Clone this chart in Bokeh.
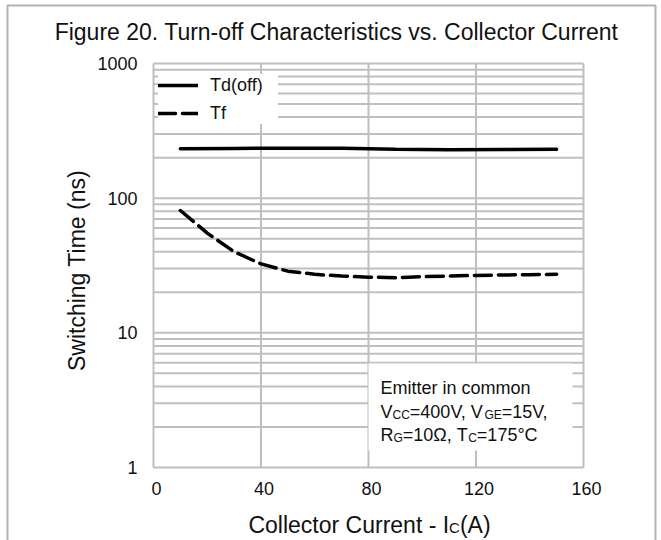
import math

from bokeh.embed import file_html
from bokeh.models import BoxAnnotation, Label, Legend, LegendItem, Range1d
from bokeh.plotting import figure
from bokeh.resources import INLINE

# ---- data -------------------------------------------------------------
ic_td = [10, 30, 50, 70, 90, 110, 130, 150]            # collector current (A)
td_off = [233, 234, 235, 235, 231, 229, 230, 231]       # Td(off) (ns)

ic_tf = [10, 20, 30, 40, 50, 60, 70, 80, 90, 100, 110, 120, 130, 140, 150]
tf = [81, 55, 40, 32.5, 28.7, 27.2, 26.4, 25.9, 25.7, 26.1, 26.4, 26.7, 26.9, 27.0, 27.2]

x_ticks = [0, 40, 80, 120, 160]
y_ticks = [1, 10, 100, 1000]
y_minor = [m * d for d in (1, 10, 100) for m in range(2, 10)]

# ---- layout -----------------------------------------------------------
# The canvas is used as one large frame; the chart area sits inside it,
# so titles and tick labels can be placed freely around it.
W, H = 661, 540
FX0, FX1 = 153, 583      # chart area left / right (px)
FY0, FY1 = 63, 467       # chart area top / bottom (px)
X0, X1 = 0, 160
Y0, Y1 = 1, 1000

FONT = "Liberation Sans"
INK = "#111111"
GRID = "#bfbfbf"


def dx(px):
    return X0 + (px - FX0) / (FX1 - FX0) * (X1 - X0)


def dy(py):
    lo, hi = math.log10(Y0), math.log10(Y1)
    return 10 ** (hi - (py - FY0) / (FY1 - FY0) * (hi - lo))


# Arial/Liberation Sans advance widths (per 1000 em)
ADV = {' ': 278, ',': 278, '.': 278, '-': 333, '=': 584, '(': 333, ')': 333,
       '°': 400, 'Ω': 768, 'A': 667, 'C': 722, 'E': 667, 'G': 778, 'I': 278,
       'R': 722, 'T': 611, 'V': 667, 'a': 556, 'c': 500, 'e': 556, 'i': 222,
       'l': 222, 'm': 833, 'n': 556, 'o': 556, 'r': 333, 't': 278, 'u': 556}


def text_width(s, size):
    return sum(ADV.get(ch, 556) for ch in s) / 1000 * size


p = figure(width=W, height=H,
           x_range=Range1d(dx(0), dx(W)), y_range=Range1d(dy(H), dy(0)),
           y_axis_type="log", output_backend="svg", toolbar_location=None,
           title=None, x_axis_location=None, y_axis_location=None,
           min_border=0)
p.grid.visible = False
p.outline_line_color = None
p.background_fill_color = "white"
p.border_fill_color = "white"

# grid (major + minor), drawn inside the chart area only
p.segment(x0=x_ticks, x1=x_ticks, y0=[Y0] * len(x_ticks), y1=[Y1] * len(x_ticks),
          line_color=GRID, line_width=2)
all_y = y_ticks + y_minor
p.segment(x0=[X0] * len(all_y), x1=[X1] * len(all_y), y0=all_y, y1=all_y,
          line_color=GRID, line_width=2)

# curves
r_td = p.line(ic_td, td_off, line_color="black", line_width=3.5, line_cap="round")
r_tf = p.line(ic_tf, tf, line_color="black", line_width=3.5, line_cap="round",
              line_dash="17 7")

legend = Legend(items=[LegendItem(label="Td(off)", renderers=[r_td]),
                       LegendItem(label="Tf", renderers=[r_tf])],
                location=(158, H - 124))
legend.padding = 7
legend.spacing = 6
legend.glyph_width = 40
legend.glyph_height = 22
legend.label_height = 22
legend.label_width = 68
legend.label_standoff = 12
legend.label_text_font = FONT
legend.label_text_font_size = "18px"
legend.label_text_color = INK
legend.background_fill_color = "white"
legend.background_fill_alpha = 1
legend.border_line_color = None
p.add_layout(legend)

# white panel behind the test conditions
p.add_layout(BoxAnnotation(left=dx(368), right=dx(572), top=dy(363), bottom=dy(450),
                           fill_color="white", fill_alpha=1, line_color=None))


def label(x, y, text, size, align="left", **kw):
    p.add_layout(Label(x=x, y=y, text=text, text_font=FONT, text_font_size=f"{size}px",
                       text_color=INK, text_align=align, text_baseline="middle", **kw))


def runs(x_px, mid_px, parts, size, sub_size, sub_drop):
    """Draw a line of text made of normal and subscript runs."""
    x = x_px
    for txt, is_sub in parts:
        fs = sub_size if is_sub else size
        ym = mid_px + (sub_drop if is_sub else 0)
        label(dx(x), dy(ym), txt, fs)
        x += text_width(txt, fs)


# tick labels
for t in x_ticks:
    label(t, dy(488), str(t), 18, align="center", x_offset=3)
for t in y_ticks:
    label(dx(137), t, str(t), 18, align="right")

# test conditions
runs(380, 387, [("Emitter in common", 0)], 18, 12, 3)
runs(380, 411, [("V", 0), ("CC", 1), ("=400V, V", 0), ("GE", 1), ("=15V,", 0)], 18, 12, 3)
runs(380, 434, [("R", 0), ("G", 1), ("=10Ω, T", 0), ("C", 1), ("=175°C", 0)], 18, 12, 3)

# title
label(dx(336), dy(31), "Figure 20. Turn-off Characteristics vs. Collector Current", 23,
      align="center")

# x axis title with subscript
xl_parts = [("Collector Current - I", 0), ("C", 1), ("(A)", 0)]
xl_w = sum(text_width(t, 15 if s else 23) for t, s in xl_parts)
runs(369 - xl_w / 2, 524, xl_parts, 23, 15, 3)

# y axis title
label(dx(76), dy(270), "Switching Time (ns)", 23, align="center", angle=math.pi / 2)

# outer frame
p.add_layout(BoxAnnotation(left=dx(7), right=dx(655), top=dy(5), bottom=dy(600),
                           fill_alpha=0, line_color="black", line_width=2))

open("out.html", "w").write(file_html(p, INLINE))
